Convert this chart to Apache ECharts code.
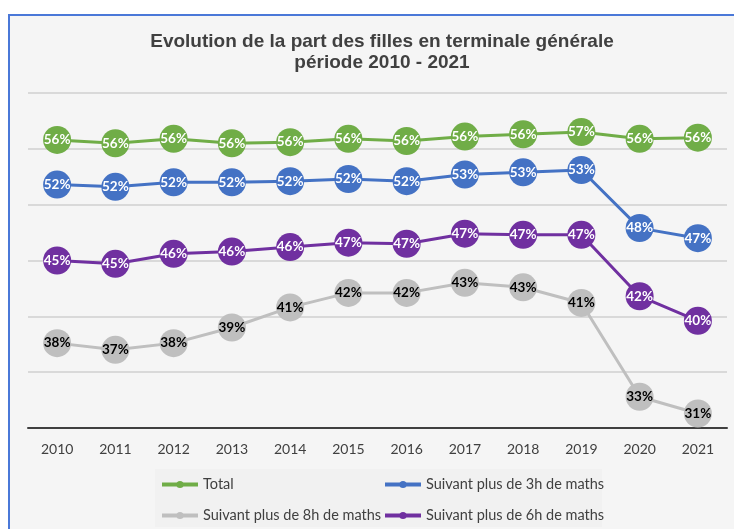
<!DOCTYPE html>
<html>
<head>
<meta charset="utf-8">
<script src="https://cdn.jsdelivr.net/npm/echarts@6/dist/echarts.min.js"></script>
<style>
  html, body { margin: 0; padding: 0; background: #ffffff; }
  #chart { width: 734px; height: 529px; }
</style>
</head>
<body>
<div id="chart"></div>
<script>
  // years on the x axis
  const years = ['2010', '2011', '2012', '2013', '2014', '2015', '2016', '2017', '2018', '2019', '2020', '2021']
  // part des filles (%)
  const total = [55.8, 55.5, 55.9, 55.5, 55.6, 55.9, 55.7, 56.1, 56.3, 56.5, 55.9, 56.0]
  const maths3h = [51.8, 51.6, 52.0, 52.0, 52.1, 52.3, 52.1, 52.7, 52.9, 53.1, 47.9, 47.0]
  const maths8h = [37.6, 37.0, 37.6, 39.0, 40.8, 42.1, 42.1, 43.0, 42.6, 41.2, 32.8, 31.3]
  const maths6h = [45.0, 44.7, 45.6, 45.8, 46.2, 46.6, 46.5, 47.4, 47.3, 47.3, 41.8, 39.6]
  const names = ['Total', 'Suivant plus de 3h de maths', 'Suivant plus de 8h de maths', 'Suivant plus de 6h de maths']

  const chart = echarts.init(document.getElementById('chart'))

  function makeSeries(name, data, color, labelColor) {
    return {
      name: name,
      type: 'line',
      data: data,
      symbol: 'circle',
      symbolSize: 28,
      lineStyle: { width: 3, color: color },
      itemStyle: { color: color },
      label: {
        show: true,
        position: 'inside',
        color: labelColor,
        fontFamily: 'Lato',
        fontWeight: 'bold',
        fontSize: 13.5,
        formatter: (p) => Math.round(p.value) + '%'
      },
      emphasis: { disabled: true },
      animation: false
    }
  }

  const legendCommon = {
    orient: 'vertical',
    top: 477,
    padding: 0,
    itemWidth: 36,
    itemHeight: 9,
    itemGap: 16,
    lineStyle: { width: 4 },
    textStyle: { fontFamily: 'Lato', fontSize: 14.5, color: '#404040' }
  }

  const option = {
    backgroundColor: '#ffffff',
    graphic: [{
      type: 'rect',
      z: -10,
      silent: true,
      shape: { x: 9, y: 15, width: 740, height: 530 },
      style: { fill: '#f5f5f5', stroke: '#4a78d8', lineWidth: 2 }
    }, {
      type: 'rect',
      z: -9,
      silent: true,
      shape: { x: 155, y: 469, width: 447, height: 58 },
      style: { fill: '#f1f1f1' }
    }],
    title: {
      text: 'Evolution de la part des filles en terminale générale\npériode 2010 - 2021',
      left: 377,
      top: 26,
      textAlign: 'center',
      textStyle: {
        fontFamily: 'Liberation Sans',
        fontSize: 19,
        fontWeight: 'bold',
        color: '#404040',
        lineHeight: 21
      }
    },
    legend: [
      Object.assign({ left: 160, data: [names[0], names[2]] }, legendCommon),
      Object.assign({ left: 383, data: [names[1], names[3]] }, legendCommon)
    ],
    grid: { left: 28, right: 7, top: 93, bottom: 101 },
    xAxis: {
      type: 'category',
      data: years,
      boundaryGap: true,
      axisTick: { show: false },
      axisLine: { lineStyle: { color: '#404040', width: 2 } },
      axisLabel: { margin: 14, fontFamily: 'Lato', fontSize: 14, color: '#404040' }
    },
    yAxis: {
      type: 'value',
      min: 30,
      max: 60,
      interval: 5,
      axisLabel: { show: false },
      axisLine: { show: false },
      axisTick: { show: false },
      splitLine: { lineStyle: { color: '#d9d9d9', width: 2 } }
    },
    series: [
      makeSeries(names[0], total, '#70ad47', '#ffffff'),
      makeSeries(names[1], maths3h, '#4472c4', '#ffffff'),
      makeSeries(names[2], maths8h, '#bfbfbf', '#000000'),
      makeSeries(names[3], maths6h, '#7030a0', '#ffffff')
    ]
  }

  chart.setOption(option)
</script>
</body>
</html>
